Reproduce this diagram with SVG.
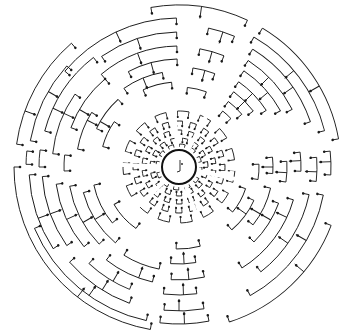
<svg xmlns="http://www.w3.org/2000/svg" width="347" height="331" viewBox="0 0 347 331">
<style>
.a{fill:none;stroke:#1a1a1a;stroke-width:0.9}
.d{fill:#1a1a1a}
.r{fill:none;stroke:#1a1a1a}
.g{stroke:#fff;stroke-width:4}
</style>
<defs>
<g id="s"><path class="a" d="M0 0H-6"/><circle class="d" cx="-6" r="1.3"/></g>
<g id="m"><path class="a" d="M0 0H-12"/><circle class="d" cx="-10" r="1.3"/></g>
</defs>
<rect width="347" height="331" fill="#fff"/>
<g transform="translate(179 167)">
<g id="inner-rings">
<circle class="r" r="23" stroke-width="0.9" stroke-dasharray="5.62 6.423"/>
<circle class="r" r="21.5" stroke-width="3" stroke-dasharray="0.8 4.453 0.8 5.204" stroke-dashoffset="0.4"/>
<g transform="rotate(12)">
<circle class="r" r="29" stroke-width="0.9" stroke-dasharray="5.568 6.58"/>
<circle class="r" r="27" stroke-width="4" stroke-dasharray="0.8 4.384 0.8 5.326" stroke-dashoffset="0.4"/>
<circle class="r" r="25" stroke-width="2" stroke-dasharray="1.8 3 1.8 3.872" stroke-dashoffset="0.9"/>
</g>
<g transform="rotate(5)">
<circle class="r" r="37" stroke-width="0.9" stroke-dasharray="5.812 7.103"/>
<circle class="r" r="35" stroke-width="4" stroke-dasharray="0.8 4.698 0.8 5.919" stroke-dashoffset="0.4"/>
<circle class="r" r="33" stroke-width="2" stroke-dasharray="1.8 3.384 1.8 4.535" stroke-dashoffset="0.9"/>
</g>
<g transform="rotate(14)">
<circle class="r" r="46" stroke-width="0.9" stroke-dasharray="6.423 8.028"/>
<circle class="r" r="43.5" stroke-width="5" stroke-dasharray="0.8 5.274 0.8 6.792" stroke-dashoffset="0.4"/>
<circle class="r" r="41" stroke-width="2" stroke-dasharray="1.8 3.925 1.8 5.356" stroke-dashoffset="0.9"/>
</g>
<g transform="rotate(4)">
<circle class="r" r="56" stroke-width="0.9" stroke-dasharray="11.729 11.728"/>
<circle class="r" r="53" stroke-width="6" stroke-dasharray="0.8 10.3 0.8 10.301" stroke-dashoffset="0.4"/>
<circle class="r" r="50" stroke-width="2" stroke-dasharray="1.8 8.672 1.8 8.672" stroke-dashoffset="0.9"/>
</g>
<path class="g" d="M19 0H62" transform="rotate(-62)"/>
<path class="g" d="M19 0H62" transform="rotate(-95)"/>
<path class="g" d="M19 0H62" transform="rotate(182)"/>
<path class="g" d="M19 0H62" transform="rotate(136)"/>
<path class="g" d="M19 0H62" transform="rotate(70)"/>
<path class="g" d="M19 0H62" transform="rotate(12)"/>
</g>
<g id="root">
<circle r="17" fill="none" stroke="#111" stroke-width="2"/>
<path class="a" d="M1 -7V4L-2 5"/>
<circle class="d" cx="3" cy="-3" r="0.9"/>
</g>

<g id="sector-top-right">
<circle class="a" r="162" stroke-dasharray="138.5 2000" transform="rotate(-59)"/><use href="#s" transform="rotate(-59) translate(162)"/><use href="#s" transform="rotate(-10) translate(162)"/>
<circle class="a" r="150" stroke-dasharray="120.4 2000" transform="rotate(-60)"/><use href="#s" transform="rotate(-60) translate(150)"/><use href="#s" transform="rotate(-14) translate(150)"/>
<circle class="a" r="139" stroke-dasharray="94.6 2000" transform="rotate(-58)"/><use href="#s" transform="rotate(-58) translate(139)"/><use href="#s" transform="rotate(-19) translate(139)"/>
<circle class="a" r="127" stroke-dasharray="66.5 2000" transform="rotate(-57)"/><use href="#s" transform="rotate(-57) translate(127)"/><use href="#s" transform="rotate(-27) translate(127)"/>
<circle class="a" r="116" stroke-dasharray="54.7 2000" transform="rotate(-56)"/><use href="#s" transform="rotate(-56) translate(116)"/><use href="#s" transform="rotate(-29) translate(116)"/>
<circle class="a" r="104" stroke-dasharray="39.9 2000" transform="rotate(-55)"/><use href="#s" transform="rotate(-55) translate(104)"/><use href="#s" transform="rotate(-33) translate(104)"/>
<circle class="a" r="93" stroke-dasharray="27.6 2000" transform="rotate(-54)"/><use href="#s" transform="rotate(-54) translate(93)"/><use href="#s" transform="rotate(-37) translate(93)"/>
<circle class="a" r="82" stroke-dasharray="18.6 2000" transform="rotate(-53)"/><use href="#s" transform="rotate(-53) translate(82)"/><use href="#s" transform="rotate(-40) translate(82)"/>
<circle class="a" r="71" stroke-dasharray="11.2 2000" transform="rotate(-52)"/><use href="#s" transform="rotate(-52) translate(71)"/><use href="#s" transform="rotate(-43) translate(71)"/>
</g>

<g id="sector-top">
<circle class="a" r="162" stroke-dasharray="99 2000" transform="rotate(-100)"/><use href="#s" transform="rotate(-100) translate(162)"/><use href="#s" transform="rotate(-65) translate(162)"/>
<circle class="a" r="149" stroke-dasharray="127.4 2000" transform="rotate(-140)"/><use href="#s" transform="rotate(-140) translate(149)"/><use href="#s" transform="rotate(-91) translate(149)"/>
<circle class="a" r="135" stroke-dasharray="80.1 2000" transform="rotate(-125)"/><use href="#s" transform="rotate(-125) translate(135)"/><use href="#s" transform="rotate(-91) translate(135)"/>
<circle class="a" r="121" stroke-dasharray="82.4 2000" transform="rotate(-130)"/><use href="#s" transform="rotate(-130) translate(121)"/><use href="#s" transform="rotate(-91) translate(121)"/>
<circle class="a" r="108" stroke-dasharray="50.9 2000" transform="rotate(-118)"/><use href="#s" transform="rotate(-118) translate(108)"/><use href="#s" transform="rotate(-91) translate(108)"/>
<circle class="a" r="96" stroke-dasharray="41.9 2000" transform="rotate(-125)"/><use href="#s" transform="rotate(-125) translate(96)"/><use href="#s" transform="rotate(-100) translate(96)"/>
<circle class="a" r="85" stroke-dasharray="29.7 2000" transform="rotate(-115)"/><use href="#s" transform="rotate(-115) translate(85)"/><use href="#s" transform="rotate(-95) translate(85)"/>
<circle class="a" r="142" stroke-dasharray="27.3 2000" transform="rotate(-78)"/><use href="#s" transform="rotate(-78) translate(142)"/><use href="#s" transform="rotate(-67) translate(142)"/>
<circle class="a" r="120" stroke-dasharray="25.1 2000" transform="rotate(-80)"/><use href="#s" transform="rotate(-80) translate(120)"/><use href="#s" transform="rotate(-68) translate(120)"/>
<circle class="a" r="100" stroke-dasharray="22.7 2000" transform="rotate(-82)"/><use href="#s" transform="rotate(-82) translate(100)"/><use href="#s" transform="rotate(-69) translate(100)"/>
<circle class="a" r="80" stroke-dasharray="19.5 2000" transform="rotate(-84)"/><use href="#s" transform="rotate(-84) translate(80)"/><use href="#s" transform="rotate(-70) translate(80)"/>
</g>

<g id="sector-right">
<circle class="a" r="152" stroke-dasharray="23.9 2000" transform="rotate(-6)"/><use href="#s" transform="rotate(-6) translate(152)"/><use href="#s" transform="rotate(3) translate(152)"/>
<circle class="a" r="138" stroke-dasharray="24.1 2000" transform="rotate(-4)"/><use href="#s" transform="rotate(-4) translate(138)"/><use href="#s" transform="rotate(6) translate(138)"/>
<circle class="a" r="122" stroke-dasharray="19.2 2000" transform="rotate(-7)"/><use href="#s" transform="rotate(-7) translate(122)"/><use href="#s" transform="rotate(2) translate(122)"/>
<circle class="a" r="108" stroke-dasharray="20.7 2000" transform="rotate(-3)"/><use href="#s" transform="rotate(-3) translate(108)"/><use href="#s" transform="rotate(8) translate(108)"/>
<circle class="a" r="94" stroke-dasharray="16.4 2000" transform="rotate(-6)"/><use href="#s" transform="rotate(-6) translate(94)"/><use href="#s" transform="rotate(4) translate(94)"/>
<circle class="a" r="80" stroke-dasharray="15.4 2000" transform="rotate(-2)"/><use href="#s" transform="rotate(-2) translate(80)"/><use href="#s" transform="rotate(9) translate(80)"/>
</g>

<g id="sector-lower-right">
<circle class="a" r="163" stroke-dasharray="145.1 2000" transform="rotate(21)"/><use href="#s" transform="rotate(21) translate(163)"/><use href="#s" transform="rotate(72) translate(163)"/>
<circle class="a" r="147" stroke-dasharray="128.3 2000" transform="rotate(11)"/><use href="#s" transform="rotate(11) translate(147)"/><use href="#s" transform="rotate(61) translate(147)"/>
<circle class="a" r="133" stroke-dasharray="92.9 2000" transform="rotate(12)"/><use href="#s" transform="rotate(12) translate(133)"/><use href="#s" transform="rotate(52) translate(133)"/>
<circle class="a" r="119" stroke-dasharray="87.2 2000" transform="rotate(16)"/><use href="#s" transform="rotate(16) translate(119)"/><use href="#s" transform="rotate(58) translate(119)"/>
<circle class="a" r="106" stroke-dasharray="46.3 2000" transform="rotate(20)"/><use href="#s" transform="rotate(20) translate(106)"/><use href="#s" transform="rotate(45) translate(106)"/>
<circle class="a" r="94" stroke-dasharray="41 2000" transform="rotate(13)"/><use href="#s" transform="rotate(13) translate(94)"/><use href="#s" transform="rotate(38) translate(94)"/>
<circle class="a" r="82" stroke-dasharray="37.2 2000" transform="rotate(24)"/><use href="#s" transform="rotate(24) translate(82)"/><use href="#s" transform="rotate(50) translate(82)"/>
<circle class="a" r="70" stroke-dasharray="26.9 2000" transform="rotate(18)"/><use href="#s" transform="rotate(18) translate(70)"/><use href="#s" transform="rotate(40) translate(70)"/>
</g>

<g id="sector-bottom">
<circle class="a" r="157" stroke-dasharray="49.3 2000" transform="rotate(79)"/><use href="#s" transform="rotate(79) translate(157)"/><use href="#s" transform="rotate(97) translate(157)"/>
<circle class="a" r="144" stroke-dasharray="40.2 2000" transform="rotate(80)"/><use href="#s" transform="rotate(80) translate(144)"/><use href="#s" transform="rotate(96) translate(144)"/>
<circle class="a" r="128" stroke-dasharray="33.5 2000" transform="rotate(82)"/><use href="#s" transform="rotate(82) translate(128)"/><use href="#s" transform="rotate(97) translate(128)"/>
<circle class="a" r="113" stroke-dasharray="33.5 2000" transform="rotate(77)"/><use href="#s" transform="rotate(77) translate(113)"/><use href="#s" transform="rotate(94) translate(113)"/>
<circle class="a" r="97" stroke-dasharray="25.4 2000" transform="rotate(80)"/><use href="#s" transform="rotate(80) translate(97)"/><use href="#s" transform="rotate(95) translate(97)"/>
<circle class="a" r="82" stroke-dasharray="24.3 2000" transform="rotate(75)"/><use href="#s" transform="rotate(75) translate(82)"/><use href="#s" transform="rotate(92) translate(82)"/>
</g>

<g id="sector-lower-left">
<circle class="a" r="165" stroke-dasharray="230.4 2000" transform="rotate(100)"/><use href="#s" transform="rotate(100) translate(165)"/><use href="#s" transform="rotate(180) translate(165)"/>
<circle class="a" r="157" stroke-dasharray="150.7 2000" transform="rotate(102)"/><use href="#s" transform="rotate(102) translate(157)"/><use href="#s" transform="rotate(157) translate(157)"/>
<circle class="a" r="145" stroke-dasharray="73.4 2000" transform="rotate(110)"/><use href="#s" transform="rotate(110) translate(145)"/><use href="#s" transform="rotate(139) translate(145)"/>
<circle class="a" r="150" stroke-dasharray="78.5 2000" transform="rotate(147)"/><use href="#s" transform="rotate(147) translate(150)"/><use href="#s" transform="rotate(177) translate(150)"/>
<circle class="a" r="137" stroke-dasharray="74.1 2000" transform="rotate(145)"/><use href="#s" transform="rotate(145) translate(137)"/><use href="#s" transform="rotate(176) translate(137)"/>
<circle class="a" r="124" stroke-dasharray="69.3 2000" transform="rotate(140)"/><use href="#s" transform="rotate(140) translate(124)"/><use href="#s" transform="rotate(172) translate(124)"/>
<circle class="a" r="111" stroke-dasharray="65.9 2000" transform="rotate(136)"/><use href="#s" transform="rotate(136) translate(111)"/><use href="#s" transform="rotate(170) translate(111)"/>
<circle class="a" r="132" stroke-dasharray="48.4 2000" transform="rotate(112)"/><use href="#s" transform="rotate(112) translate(132)"/><use href="#s" transform="rotate(133) translate(132)"/>
<circle class="a" r="118" stroke-dasharray="51.5 2000" transform="rotate(103)"/><use href="#s" transform="rotate(103) translate(118)"/><use href="#s" transform="rotate(128) translate(118)"/>
<circle class="a" r="99" stroke-dasharray="60.5 2000" transform="rotate(130)"/><use href="#s" transform="rotate(130) translate(99)"/><use href="#s" transform="rotate(165) translate(99)"/>
<circle class="a" r="87" stroke-dasharray="42.5 2000" transform="rotate(140)"/><use href="#s" transform="rotate(140) translate(87)"/><use href="#s" transform="rotate(168) translate(87)"/>
<circle class="a" r="104" stroke-dasharray="38.1 2000" transform="rotate(101)"/><use href="#s" transform="rotate(101) translate(104)"/><use href="#s" transform="rotate(122) translate(104)"/>
<circle class="a" r="75" stroke-dasharray="32.7 2000" transform="rotate(125)"/><use href="#s" transform="rotate(125) translate(75)"/><use href="#s" transform="rotate(150) translate(75)"/>
</g>

<g id="sector-upper-left">
<circle class="a" r="164" stroke-dasharray="117.4 2000" transform="rotate(188)"/><use href="#s" transform="rotate(188) translate(164)"/><use href="#s" transform="rotate(229) translate(164)"/>
<circle class="a" r="151" stroke-dasharray="84.3 2000" transform="rotate(190)"/><use href="#s" transform="rotate(190) translate(151)"/><use href="#s" transform="rotate(222) translate(151)"/>
<circle class="a" r="139" stroke-dasharray="89.8 2000" transform="rotate(195)"/><use href="#s" transform="rotate(195) translate(139)"/><use href="#s" transform="rotate(232) translate(139)"/>
<circle class="a" r="127" stroke-dasharray="64.3 2000" transform="rotate(186)"/><use href="#s" transform="rotate(186) translate(127)"/><use href="#s" transform="rotate(215) translate(127)"/>
<circle class="a" r="115" stroke-dasharray="60.2 2000" transform="rotate(200)"/><use href="#s" transform="rotate(200) translate(115)"/><use href="#s" transform="rotate(230) translate(115)"/>
<circle class="a" r="103" stroke-dasharray="39.6 2000" transform="rotate(190)"/><use href="#s" transform="rotate(190) translate(103)"/><use href="#s" transform="rotate(212) translate(103)"/>
<circle class="a" r="91" stroke-dasharray="36.5 2000" transform="rotate(205)"/><use href="#s" transform="rotate(205) translate(91)"/><use href="#s" transform="rotate(228) translate(91)"/>
<circle class="a" r="79" stroke-dasharray="27.6 2000" transform="rotate(195)"/><use href="#s" transform="rotate(195) translate(79)"/><use href="#s" transform="rotate(215) translate(79)"/>
<circle class="a" r="153" stroke-dasharray="13.4 2000" transform="rotate(181)"/><use href="#s" transform="rotate(181) translate(153)"/><use href="#s" transform="rotate(186) translate(153)"/>
<circle class="a" r="140" stroke-dasharray="17.1 2000" transform="rotate(180)"/><use href="#s" transform="rotate(180) translate(140)"/><use href="#s" transform="rotate(187) translate(140)"/>
<circle class="a" r="115" stroke-dasharray="16.1 2000" transform="rotate(178)"/><use href="#s" transform="rotate(178) translate(115)"/><use href="#s" transform="rotate(186) translate(115)"/>
</g>

<g id="connectors">
<use href="#m" transform="rotate(-30) translate(162)"/><use href="#m" transform="rotate(-40) translate(150)"/><use href="#m" transform="rotate(-35) translate(139)"/><use href="#m" transform="rotate(-45) translate(127)"/><use href="#m" transform="rotate(-40) translate(116)"/><use href="#m" transform="rotate(-45) translate(104)"/><use href="#m" transform="rotate(-45) translate(93)"/>
<use href="#m" transform="rotate(-82) translate(162)"/><use href="#m" transform="rotate(-115) translate(149)"/><use href="#m" transform="rotate(-108) translate(135)"/><use href="#m" transform="rotate(-110) translate(121)"/><use href="#m" transform="rotate(-105) translate(108)"/><use href="#m" transform="rotate(-112) translate(96)"/>
<use href="#m" transform="rotate(-72) translate(142)"/><use href="#m" transform="rotate(-74) translate(120)"/><use href="#m" transform="rotate(-75) translate(100)"/>
<use href="#m" transform="rotate(-2) translate(152)"/><use href="#m" transform="rotate(2) translate(138)"/><use href="#m" transform="rotate(-3) translate(122)"/><use href="#m" transform="rotate(3) translate(108)"/><use href="#m" transform="rotate(0) translate(94)"/>
<use href="#m" transform="rotate(40) translate(163)"/><use href="#m" transform="rotate(30) translate(147)"/><use href="#m" transform="rotate(35) translate(133)"/><use href="#m" transform="rotate(25) translate(119)"/><use href="#m" transform="rotate(30) translate(106)"/><use href="#m" transform="rotate(30) translate(94)"/><use href="#m" transform="rotate(35) translate(82)"/>
<use href="#m" transform="rotate(88) translate(157)"/><use href="#m" transform="rotate(90) translate(144)"/><use href="#m" transform="rotate(88) translate(128)"/><use href="#m" transform="rotate(85) translate(113)"/><use href="#m" transform="rotate(87) translate(97)"/>
<use href="#m" transform="rotate(128) translate(165)"/><use href="#m" transform="rotate(125) translate(157)"/><use href="#m" transform="rotate(160) translate(150)"/><use href="#m" transform="rotate(160) translate(137)"/><use href="#m" transform="rotate(155) translate(124)"/><use href="#m" transform="rotate(150) translate(111)"/><use href="#m" transform="rotate(148) translate(99)"/><use href="#m" transform="rotate(122) translate(145)"/><use href="#m" transform="rotate(120) translate(132)"/><use href="#m" transform="rotate(110) translate(118)"/>
<use href="#m" transform="rotate(200) translate(164)"/><use href="#m" transform="rotate(210) translate(151)"/><use href="#m" transform="rotate(205) translate(139)"/><use href="#m" transform="rotate(205) translate(127)"/><use href="#m" transform="rotate(210) translate(115)"/><use href="#m" transform="rotate(207) translate(103)"/><use href="#m" transform="rotate(210) translate(91)"/>
</g>
</g>
</svg>
